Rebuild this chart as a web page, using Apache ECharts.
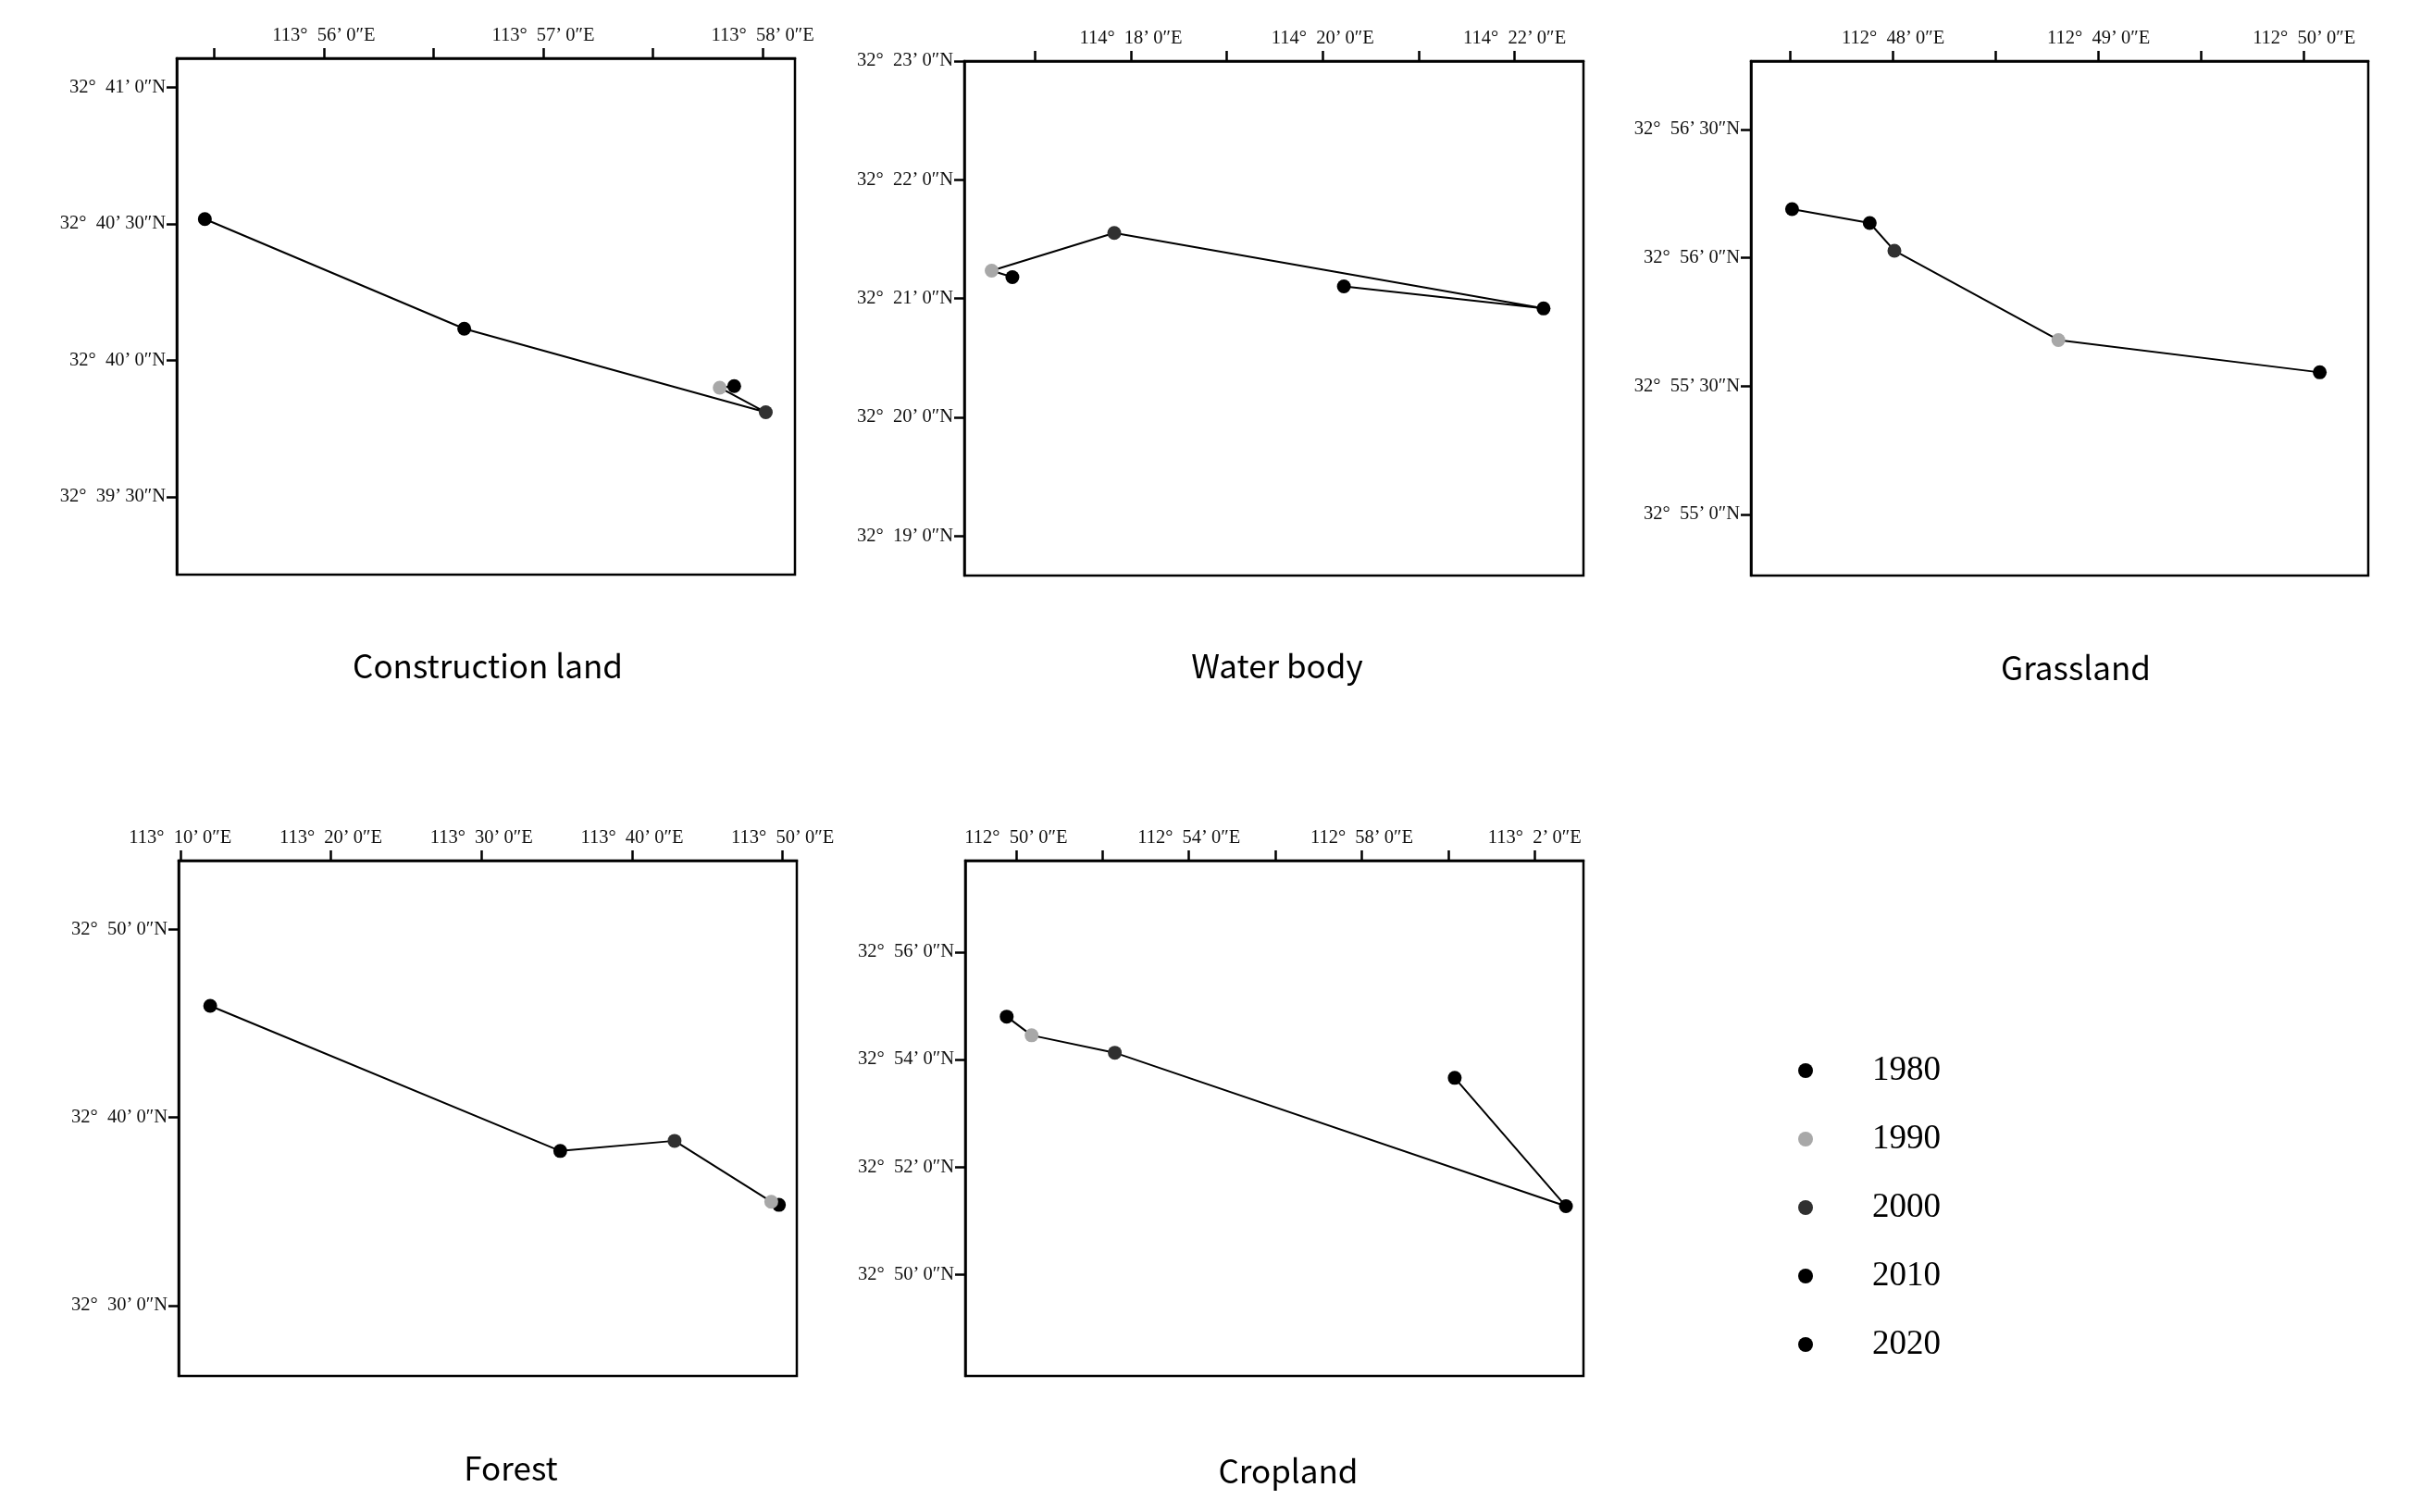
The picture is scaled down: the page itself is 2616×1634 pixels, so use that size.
<!DOCTYPE html>
<html>
<head>
<meta charset="utf-8">
<script src="https://cdn.jsdelivr.net/npm/echarts@6/dist/echarts.min.js"></script>
<style>
  html, body { margin: 0; padding: 0; background: #fff; }
  #main { width: 2616px; height: 1634px; }
</style>
</head>
<body>
<div id="main"></div>
<script>
// centroid tracks per land type, decimal degrees, order 1980..2020
var years = ['1980', '1990', '2000', '2010', '2020'];
var yearColors = ['#000', '#a8a8a8', '#303030', '#000', '#000'];

var constructionLon = [113.9645, 113.9634, 113.9669, 113.9440, 113.9243];
var constructionLat = [32.6651, 32.6650, 32.6635, 32.6686, 32.6753];
var waterLon = [114.2794, 114.2758, 114.2971, 114.3717, 114.3370];
var waterLat = [32.3530, 32.3539, 32.3592, 32.3486, 32.3517];
var grassLon = [112.8346, 112.8134, 112.8001, 112.7981, 112.7918];
var grassLat = [32.9259, 32.9280, 32.9338, 32.9356, 32.9365];
var forestLon = [113.8292, 113.8207, 113.7137, 113.5872, 113.1998];
var forestLat = [32.5892, 32.5920, 32.6460, 32.6370, 32.7657];
var croplandLon = [112.8297, 112.8393, 112.8714, 113.0454, 113.0025];
var croplandLat = [32.9133, 32.9075, 32.9021, 32.8545, 32.8943];

// tick marks / labels, in arc minutes past the whole degree
var constructionLonTicks = [55.5, 56, 56.5, 57, 57.5, 58];
var constructionLonLabels = [56, 57, 58];
var constructionLatTicks = [39.5, 40, 40.5, 41];
var waterLonTicks = [17, 18, 19, 20, 21, 22];
var waterLonLabels = [18, 20, 22];
var waterLatTicks = [19, 20, 21, 22, 23];
var grassLonTicks = [47.5, 48, 48.5, 49, 49.5, 50];
var grassLonLabels = [48, 49, 50];
var grassLatTicks = [55, 55.5, 56, 56.5];
var forestLonTicks = [10, 20, 30, 40, 50];
var forestLatTicks = [30, 40, 50];
var croplandLonTicks = [50, 52, 54, 56, 58, 60, 62];
var croplandLonLabels = [50, 54, 58, 62];
var croplandLatTicks = [50, 52, 54, 56];

function dm(d, m) { return d + m / 60; }
function toDeg(d) { return function (m) { return dm(d, m); }; }

function dms(suffix) {
    return function (v) {
        var s = Math.round(v * 3600);
        var d = Math.floor(s / 3600);
        var m = Math.floor((s - d * 3600) / 60);
        var sec = s - d * 3600 - m * 60;
        return d + '°  ' + m + '’\u2009' + sec + '″' + suffix;
    };
}

var panels = [
    {
        name: 'Construction land', lon: constructionLon, lat: constructionLat,
        grid: { left: 191, top: 63, width: 668, height: 558 }, titlePos: [527, 720],
        x: [dm(113, 55.33), dm(113, 58.147)], xTicks: constructionLonTicks.map(toDeg(113)), xLabels: constructionLonLabels.map(toDeg(113)),
        y: [dm(32, 39.215), dm(32, 41.107)], yTicks: constructionLatTicks.map(toDeg(32)), yLabels: constructionLatTicks.map(toDeg(32))
    },
    {
        name: 'Water body', lon: waterLon, lat: waterLat,
        grid: { left: 1042, top: 66, width: 669, height: 556 }, titlePos: [1380, 720],
        x: [dm(114, 16.263), dm(114, 22.718)], xTicks: waterLonTicks.map(toDeg(114)), xLabels: waterLonLabels.map(toDeg(114)),
        y: [dm(32, 18.666), dm(32, 23)], yTicks: waterLatTicks.map(toDeg(32)), yLabels: waterLatTicks.map(toDeg(32))
    },
    {
        name: 'Grassland', lon: grassLon, lat: grassLat,
        grid: { left: 1892, top: 66, width: 667, height: 556 }, titlePos: [2243, 722],
        x: [dm(112, 47.308), dm(112, 50.312)], xTicks: grassLonTicks.map(toDeg(112)), xLabels: grassLonLabels.map(toDeg(112)),
        y: [dm(32, 54.762), dm(32, 56.767)], yTicks: grassLatTicks.map(toDeg(32)), yLabels: grassLatTicks.map(toDeg(32))
    },
    {
        name: 'Forest', lon: forestLon, lat: forestLat,
        grid: { left: 193, top: 930, width: 668, height: 557 }, titlePos: [552, 1587],
        x: [dm(113, 9.89), dm(113, 50.94)], xTicks: forestLonTicks.map(toDeg(113)), xLabels: forestLonTicks.map(toDeg(113)),
        y: [dm(32, 26.25), dm(32, 53.67)], yTicks: forestLatTicks.map(toDeg(32)), yLabels: forestLatTicks.map(toDeg(32))
    },
    {
        name: 'Cropland', lon: croplandLon, lat: croplandLat,
        grid: { left: 1043, top: 930, width: 668, height: 557 }, titlePos: [1392, 1590],
        x: [dm(112, 48.823), dm(112, 63.129)], xTicks: croplandLonTicks.map(toDeg(112)), xLabels: croplandLonLabels.map(toDeg(112)),
        y: [dm(32, 48.111), dm(32, 57.702)], yTicks: croplandLatTicks.map(toDeg(32)), yLabels: croplandLatTicks.map(toDeg(32))
    }
];

var labelFont = { fontFamily: 'Liberation Serif', fontSize: 20.5, color: '#111' };

var grids = [], xAxes = [], yAxes = [], series = [], graphics = [];
panels.forEach(function (p, i) {
    grids.push(Object.assign({ show: true, borderColor: '#000', borderWidth: 2.5, containLabel: false }, p.grid));
    xAxes.push({
        type: 'value', gridIndex: i, position: 'top', min: p.x[0], max: p.x[1],
        axisLine: { show: true, onZero: false, lineStyle: { color: '#000', width: 2.5 } },
        axisTick: { show: true, inside: false, length: 11, lineStyle: { color: '#000', width: 2.5 }, customValues: p.xTicks },
        axisLabel: Object.assign({ margin: 14, customValues: p.xLabels, formatter: dms('E') }, labelFont),
        splitLine: { show: false }
    });
    yAxes.push({
        type: 'value', gridIndex: i, min: p.y[0], max: p.y[1],
        axisLine: { show: true, onZero: false, lineStyle: { color: '#000', width: 2.5 } },
        axisTick: { show: true, inside: false, length: 11, lineStyle: { color: '#000', width: 2.5 }, customValues: p.yTicks },
        axisLabel: Object.assign({ margin: 12, customValues: p.yLabels, formatter: dms('N') }, labelFont),
        splitLine: { show: false }
    });
    series.push({
        type: 'line', name: p.name, xAxisIndex: i, yAxisIndex: i,
        data: p.lon.map(function (x, k) { return [x, p.lat[k]]; }),
        showSymbol: false, symbol: 'none', silent: true, z: 2,
        lineStyle: { color: '#000', width: 2 }
    });
    years.forEach(function (yr, k) {
        series.push({
            type: 'scatter', name: yr, xAxisIndex: i, yAxisIndex: i,
            data: [[p.lon[k], p.lat[k]]],
            symbol: 'circle', symbolSize: 15, z: 3,
            itemStyle: { color: yearColors[k], opacity: 1 }
        });
    });
    graphics.push({
        type: 'text', x: p.titlePos[0], y: p.titlePos[1],
        style: {
            text: p.name, fontFamily: 'Noto Sans CJK SC', fontSize: 35, fill: '#000',
            align: 'center', verticalAlign: 'middle'
        }
    });
});

var myChart = echarts.init(document.getElementById('main'));
var option = {
    animation: false,
    backgroundColor: '#fff',
    grid: grids,
    xAxis: xAxes,
    yAxis: yAxes,
    legend: {
        data: years,
        orient: 'vertical',
        left: 1938,
        top: 1132,
        icon: 'circle',
        itemWidth: 16,
        itemHeight: 16,
        itemGap: 34,
        selectedMode: false,
        textStyle: { fontFamily: 'Liberation Serif', fontSize: 37, color: '#000', lineHeight: 40, padding: [0, 0, 0, 59] }
    },
    graphic: graphics,
    series: series
};
myChart.setOption(option);
</script>
</body>
</html>
